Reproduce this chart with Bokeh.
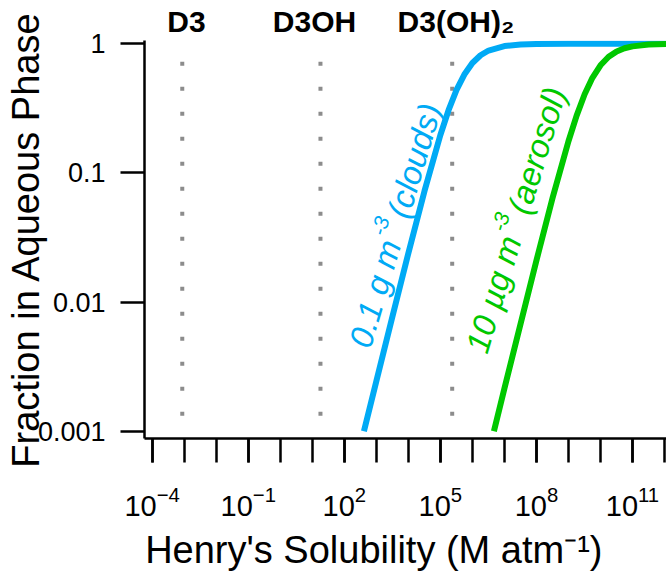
import numpy as np
from bokeh.plotting import figure
from bokeh.models import (FixedTicker, CustomJSTickFormatter, Label, Range1d,
                          LogTickFormatter, LogAxis)
from bokeh.embed import file_html
from bokeh.resources import INLINE

# ---------------- data ----------------
henry_ticks = [1e-4, 1e-1, 1e2, 1e5, 1e8, 1e11]
henry_minor = [10.0 ** e for e in range(-4, 13)]
frac_ticks = [0.001, 0.01, 0.1, 1.0]

species_names = ["D3", "D3OH", "D3(OH)₂"]
species_label_x = [1.18e-3, 11.7, 3.05e5]
species_H = [8.7e-4, 18.0, 2.34e5]          # dotted markers: D3, D3OH, D3(OH)2
dotted_top = 0.726
dotted_bottom = 0.00132

cloud_H = [4.1e2, 1.0e3, 3.2e3, 1.0e4, 3.2e4, 1.0e5, 1.8e5, 3.2e5, 5.6e5,
           1.0e6, 1.8e6, 3.2e6, 1.0e7, 3.2e7, 1.0e8, 1.0e9, 1.0e10, 1.2e12]
cloud_f = [0.001, 0.00244, 0.00776, 0.0239, 0.0726, 0.1965, 0.306, 0.439, 0.578,
           0.710, 0.815, 0.887, 0.961, 0.987, 0.996, 0.9996, 1.0, 1.0]

aerosol_H = [4.7e6, 1.0e7, 3.2e7, 1.0e8, 3.2e8, 1.0e9, 1.8e9, 3.2e9, 5.6e9,
             1.0e10, 1.8e10, 3.2e10, 5.6e10, 1.0e11, 3.2e11, 1.2e12]
aerosol_f = [0.001, 0.00214, 0.0068, 0.021, 0.0641, 0.176, 0.278, 0.4065, 0.545,
             0.6815, 0.794, 0.873, 0.923, 0.955, 0.9856, 0.9955]

y_title = "Fraction in Aqueous Phase"
x_title = "Henry's Solubility (M atm⁻¹)"

BLUE = "#00aaf5"
GREEN = "#00c800"
GREY = "#8c8c8c"
FONT = "Liberation Sans"

p = figure(width=666, height=578, x_axis_type="log", y_axis_type="log",
           x_range=Range1d(10 ** -4.24, 10 ** 12.062),
           y_range=Range1d(10 ** -3.0565, 10 ** 0.0255),
           output_backend="svg", toolbar_location=None,
           min_border_left=144, min_border_right=0, min_border_top=40, min_border_bottom=140)
p.outline_line_color = None
p.xgrid.visible = False
p.ygrid.visible = False
p.background_fill_color = "white"
p.border_fill_color = "white"

for ax in (p.xaxis[0], p.yaxis[0]):
    ax.axis_line_width = 2.5
    ax.axis_line_color = "black"
    ax.major_tick_line_width = 2.5
    ax.minor_tick_line_width = 2.5
    ax.major_tick_out = 24
    ax.major_tick_in = 0
    ax.minor_tick_out = 24
    ax.minor_tick_in = 0
    ax.major_label_text_font = FONT
    ax.major_label_text_font_size = "27px"
    ax.major_label_text_color = "black"
    ax.axis_label_text_font = FONT
    ax.axis_label_text_font_size = "38px"
    ax.axis_label_text_font_style = "normal"
    ax.axis_label_text_color = "black"

p.xaxis.ticker = FixedTicker(ticks=henry_ticks, minor_ticks=henry_minor)
p.xaxis.formatter = LogTickFormatter()
p.xaxis.major_label_text_font_size = "29px"
p.xaxis.major_label_standoff = 23
# trailing no-break spaces shift the centred title left, as in the reference
p.xaxis.axis_label = x_title + "\u00a0" * 6
p.xaxis.axis_label_standoff = 10

p.yaxis.ticker = FixedTicker(ticks=frac_ticks, minor_ticks=[])
p.yaxis.formatter = CustomJSTickFormatter(code="return tick.toString()")
p.yaxis.minor_tick_line_color = None
p.yaxis.major_label_standoff = 15
p.yaxis.axis_label = y_title
p.yaxis.axis_label_standoff = -12

# top axis carrying the species names
top = LogAxis(ticker=FixedTicker(ticks=species_label_x, minor_ticks=[]),
              formatter=CustomJSTickFormatter(args=dict(names=species_names),
                                              code="return names[index]"))
top.axis_line_color = None
top.major_tick_line_color = None
top.minor_tick_line_color = None
top.major_tick_out = 0
top.major_tick_in = 0
top.major_label_standoff = 3
top.major_label_text_font = FONT
top.major_label_text_font_style = "bold"
top.major_label_text_font_size = "30px"
top.major_label_text_color = "black"
p.add_layout(top, "above")

# dotted vertical markers
p.segment(x0=species_H, y0=[dotted_top] * 3, x1=species_H, y1=[dotted_bottom] * 3,
          line_color=GREY, line_width=4, line_dash="4 21", line_cap="butt")

# curves
p.line(cloud_H, cloud_f, line_color=BLUE, line_width=6, line_join="round")
p.line(aerosol_H, aerosol_f, line_color=GREEN, line_width=6, line_join="round")


def rotated_text(x, y, pieces, angle_deg, color):
    a = np.radians(angle_deg)
    for text, along, up, size in pieces:
        xo = along * np.cos(a) - up * np.sin(a)
        yo = along * np.sin(a) + up * np.cos(a)
        p.add_layout(Label(x=x, y=y, x_offset=float(xo), y_offset=float(yo), text=text,
                           angle=float(a), text_font=FONT, text_font_style="italic",
                           text_font_size=f"{size}px", text_color=color,
                           text_align="left", text_baseline="alphabetic"))


rotated_text(10 ** 2.47, 10 ** -2.343,
             [("0.1 g m", 0, 0, 33), ("-3", 112, 14, 21), ("(clouds)", 135, 0, 33)],
             73.5, BLUE)
rotated_text(10 ** 6.12, 10 ** -2.384,
             [("10 µg m", 0, 0, 33), ("-3", 122, 14, 21), ("(aerosol)", 145, 0, 33)],
             73.2, GREEN)

open("out.html", "w").write(file_html(p, INLINE))
